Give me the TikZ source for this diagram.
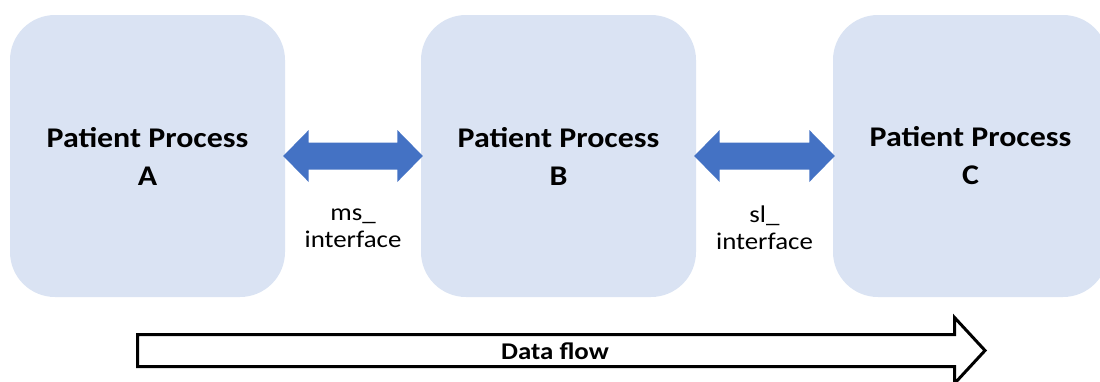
\documentclass[tikz,border=0pt]{standalone}
\usepackage{fontspec}
\setmainfont[FakeStretch=1.12]{Carlito}
\usetikzlibrary{calc}
\definecolor{boxfill}{HTML}{DAE3F3}
\definecolor{linkblue}{HTML}{4472C4}

% Block double arrow between the east side of #1 and the west side of #2
\newcommand\linkarrow[2]{%
  \fill[linkblue] let \p1=($(#1.east)+(-2,0)$), \p2=($(#2.west)+(2,0)$) in
    (\x1,\y1) -- ++(25.5pt,26pt) -- ++(0,-12.5pt) -- (\x2-25.5pt,\y1+13.5pt)
    -- ++(0,12.5pt) -- (\x2,\y1) -- ++(-25.5pt,-26pt) -- ++(0,12.5pt)
    -- (\x1+25.5pt,\y1-13.5pt) -- ++(0,-12.5pt) -- cycle;}

\begin{document}
\begin{tikzpicture}[x=1pt,y=-1pt,
  process/.style={fill=boxfill, rounded corners=45pt, minimum width=275pt,
    minimum height=282pt, inner sep=0pt, align=center,
    font=\fontsize{28.5}{38}\selectfont\bfseries},
  iflabel/.style={align=center, font=\fontsize{24}{27}\selectfont}]
\useasboundingbox (0,0) rectangle (1100,381);
\clip (0,0) rectangle (1100,381);

% Process boxes
\node[process] (A) at (147.5,156) {Patient Process\\A};
\node[process] (B) at (558.5,156) {Patient Process\\B};
\node[process] (C) at (970.5,156) {Patient Process\\C};

% Interfaces between the processes
\linkarrow{A}{B}
\linkarrow{B}{C}
\node[iflabel] (ms) at (353,228) {ms\_\\interface};
\node[iflabel] (sl) at (764.5,228) {sl\_\\interface};

% Data flow direction
\draw[line width=3pt, fill=white, line join=miter]
  (137.5,334.5) -- (954.5,334.5) -- (954.5,317.5) -- (985,350.5)
  -- (954.5,383.5) -- (954.5,366.5) -- (137.5,366.5) -- cycle;
\node[font=\fontsize{24}{27}\selectfont\bfseries, anchor=base] (flow) at (555,359.5) {Data flow};
\end{tikzpicture}
\end{document}
